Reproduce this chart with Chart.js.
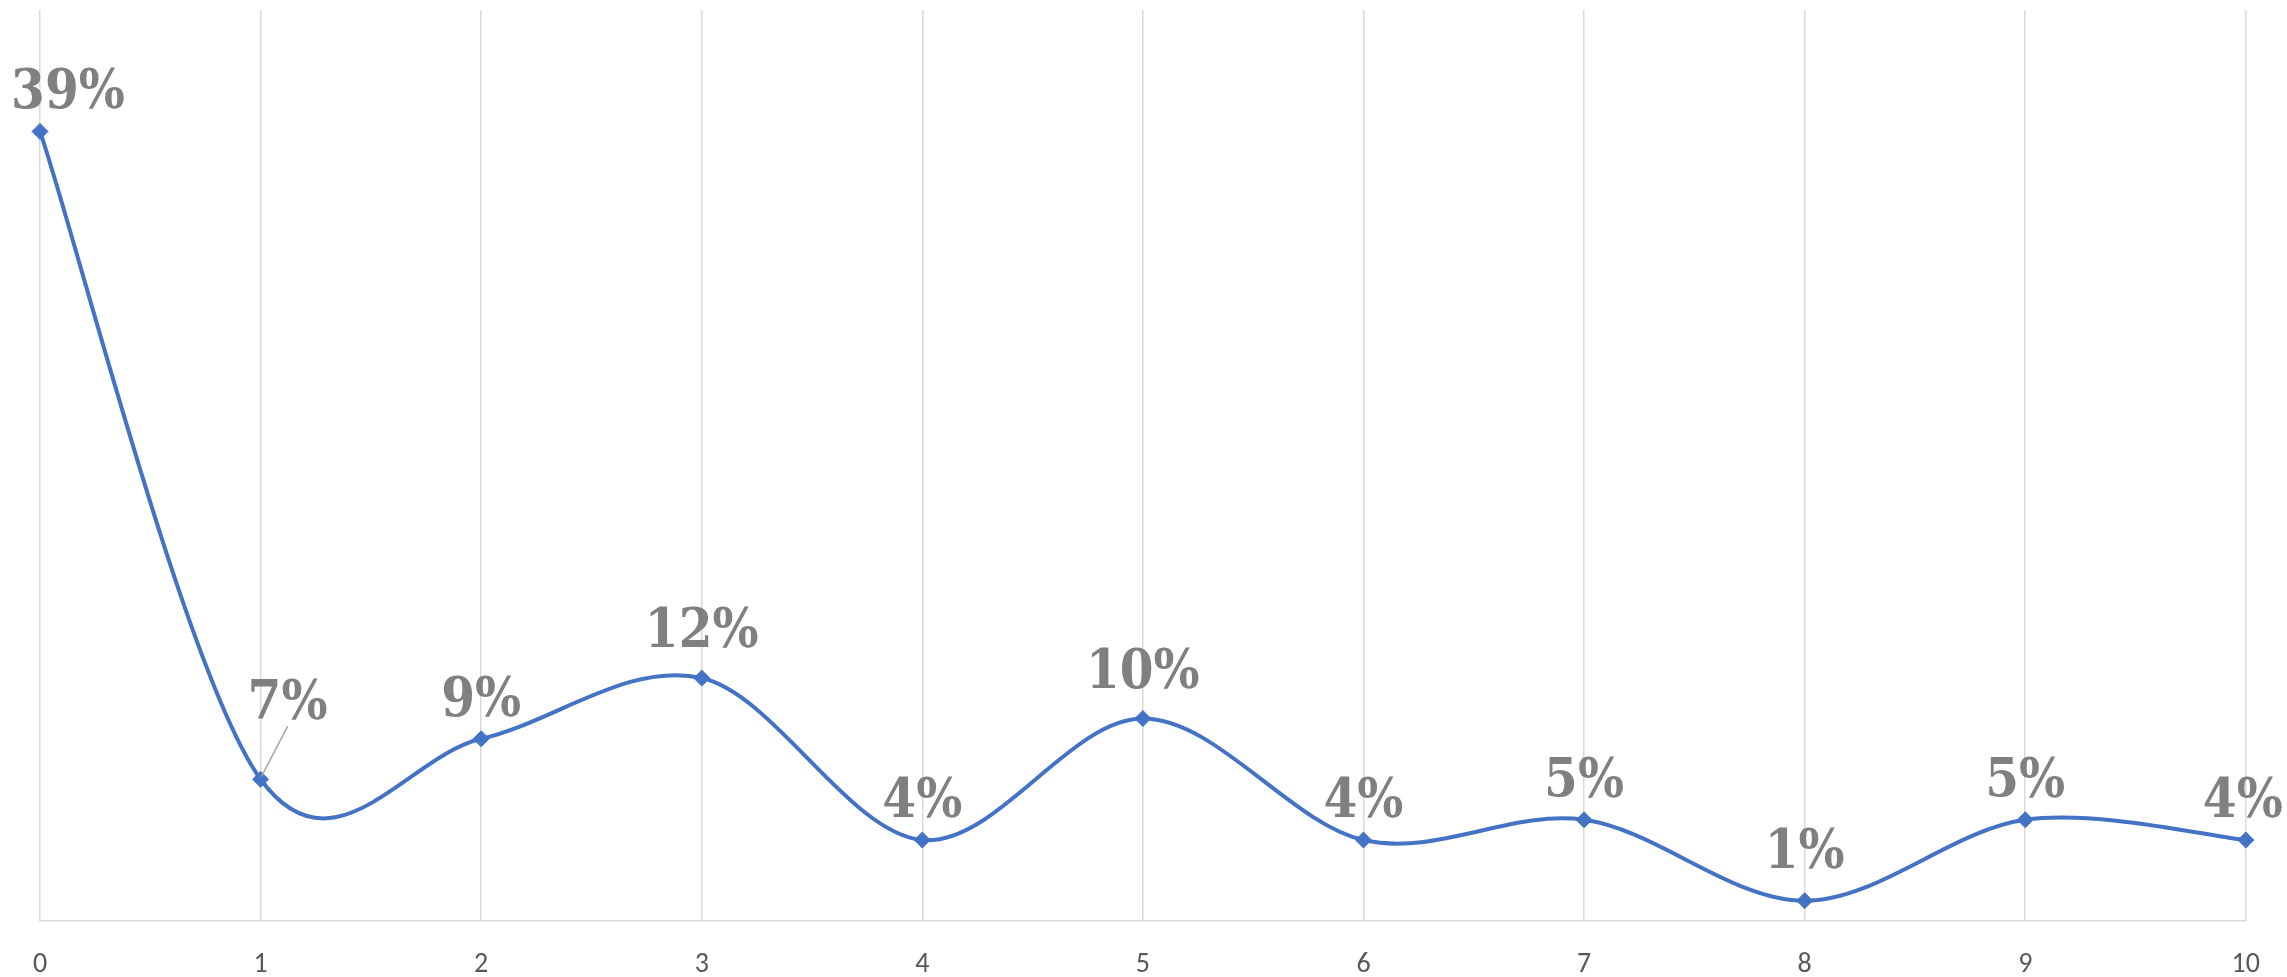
<!DOCTYPE html>
<html>
<head>
<meta charset="utf-8">
<script src="https://cdn.jsdelivr.net/npm/chart.js@4/dist/chart.umd.min.js"></script>
<style>
  html, body { margin: 0; padding: 0; background: #fff; }
  #wrap { position: relative; width: 2287px; height: 977px; }
</style>
</head>
<body>
<div id="wrap"><canvas id="c"></canvas></div>
<script>
// categories on the x axis
const CATEGORIES = ['0', '1', '2', '3', '4', '5', '6', '7', '8', '9', '10'];
// share per category (fractions)
const SHARE = [0.39, 0.07, 0.09, 0.12, 0.04, 0.10, 0.04, 0.05, 0.01, 0.05, 0.04];

const BLUE = '#4472c4';
const GRID = '#d9d9d9';

// office-style smoothing: control points = P ± (next - prev) / 6
// (chart.js weights by segment length, which bends the steep first segment too much)
const officeSmooth = {
  id: 'officeSmooth',
  beforeDatasetDraw(chart, args) {
    const meta = args.meta;
    meta.dataset.updateControlPoints(chart.chartArea, meta.iScale.axis);
    const pts = meta.data;
    const n = pts.length;
    pts.forEach((p, i) => {
      const a = pts[Math.max(i - 1, 0)], b = pts[Math.min(i + 1, n - 1)];
      const dx = (b.x - a.x) / 6, dy = (b.y - a.y) / 6;
      p.cp1x = p.x - dx; p.cp1y = p.y - dy;
      p.cp2x = p.x + dx; p.cp2y = p.y + dy;
    });
  }
};

// draws the bold grey % labels above each marker (no datalabels plugin offline)
const valueLabels = {
  id: 'valueLabels',
  afterDatasetsDraw(chart, args, opts) {
    const ctx = chart.ctx;
    const meta = chart.getDatasetMeta(0);
    const vals = chart.data.datasets[0].data;
    ctx.save();
    ctx.font = opts.font;
    ctx.fillStyle = opts.color;
    ctx.textAlign = 'center';
    ctx.textBaseline = 'alphabetic';
    meta.data.forEach((pt, i) => {
      const s = opts.shift[i] || [0, 0];
      const x = pt.x + s[0];
      const y = pt.y - opts.lift + s[1];
      if (opts.leader.includes(i)) {
        ctx.strokeStyle = '#a6a6a6';
        ctx.lineWidth = 1.5;
        ctx.beginPath();
        ctx.moveTo(pt.x + 1, pt.y - 3);
        ctx.lineTo(x, y + 7);
        ctx.stroke();
      }
      ctx.fillText(Math.round(vals[i] * 100) + '%', x, y);
    });
    ctx.restore();
  }
};

new Chart(document.getElementById('c'), {
  type: 'line',
  data: {
    labels: CATEGORIES,
    datasets: [{
      data: SHARE,
      borderColor: BLUE,
      borderWidth: 4,
      tension: 0.5,
      pointStyle: 'rectRot',
      pointRadius: 8,
      pointBackgroundColor: BLUE,
      pointBorderColor: BLUE,
      pointBorderWidth: 1,
      clip: false,
    }]
  },
  options: {
    responsive: true, maintainAspectRatio: false,
    animation: false,
    events: [],
    layout: { padding: { left: 40, right: 40, top: 10, bottom: 0 } },
    plugins: {
      legend: { display: false },
      tooltip: { enabled: false },
      valueLabels: {
        font: 'bold 54px "DejaVu Serif Condensed", "DejaVu Serif", serif',
        color: '#808080',
        lift: 23,
        leader: [1],
        shift: [[28, 0], [27, -37], [0, 0], [0, -8], [0, 0], [0, -8], [0, 0], [0, 0], [0, -10], [0, 0], [-3, 0]],
      },
    },
    scales: {
      x: {
        offset: false,
        grid: { color: GRID, lineWidth: 1.5, drawTicks: false },
        border: { color: GRID, width: 1.5 },
        ticks: { color: '#595959', padding: 27, maxRotation: 0, font: { family: 'Carlito, Lato, "Liberation Sans", sans-serif', size: 28 } },
        afterFit: s => { s.height = 56; },
      },
      y: {
        display: false,
        min: 0, max: 0.45,
      }
    }
  },
  plugins: [officeSmooth, valueLabels]
});
</script>
</body>
</html>
